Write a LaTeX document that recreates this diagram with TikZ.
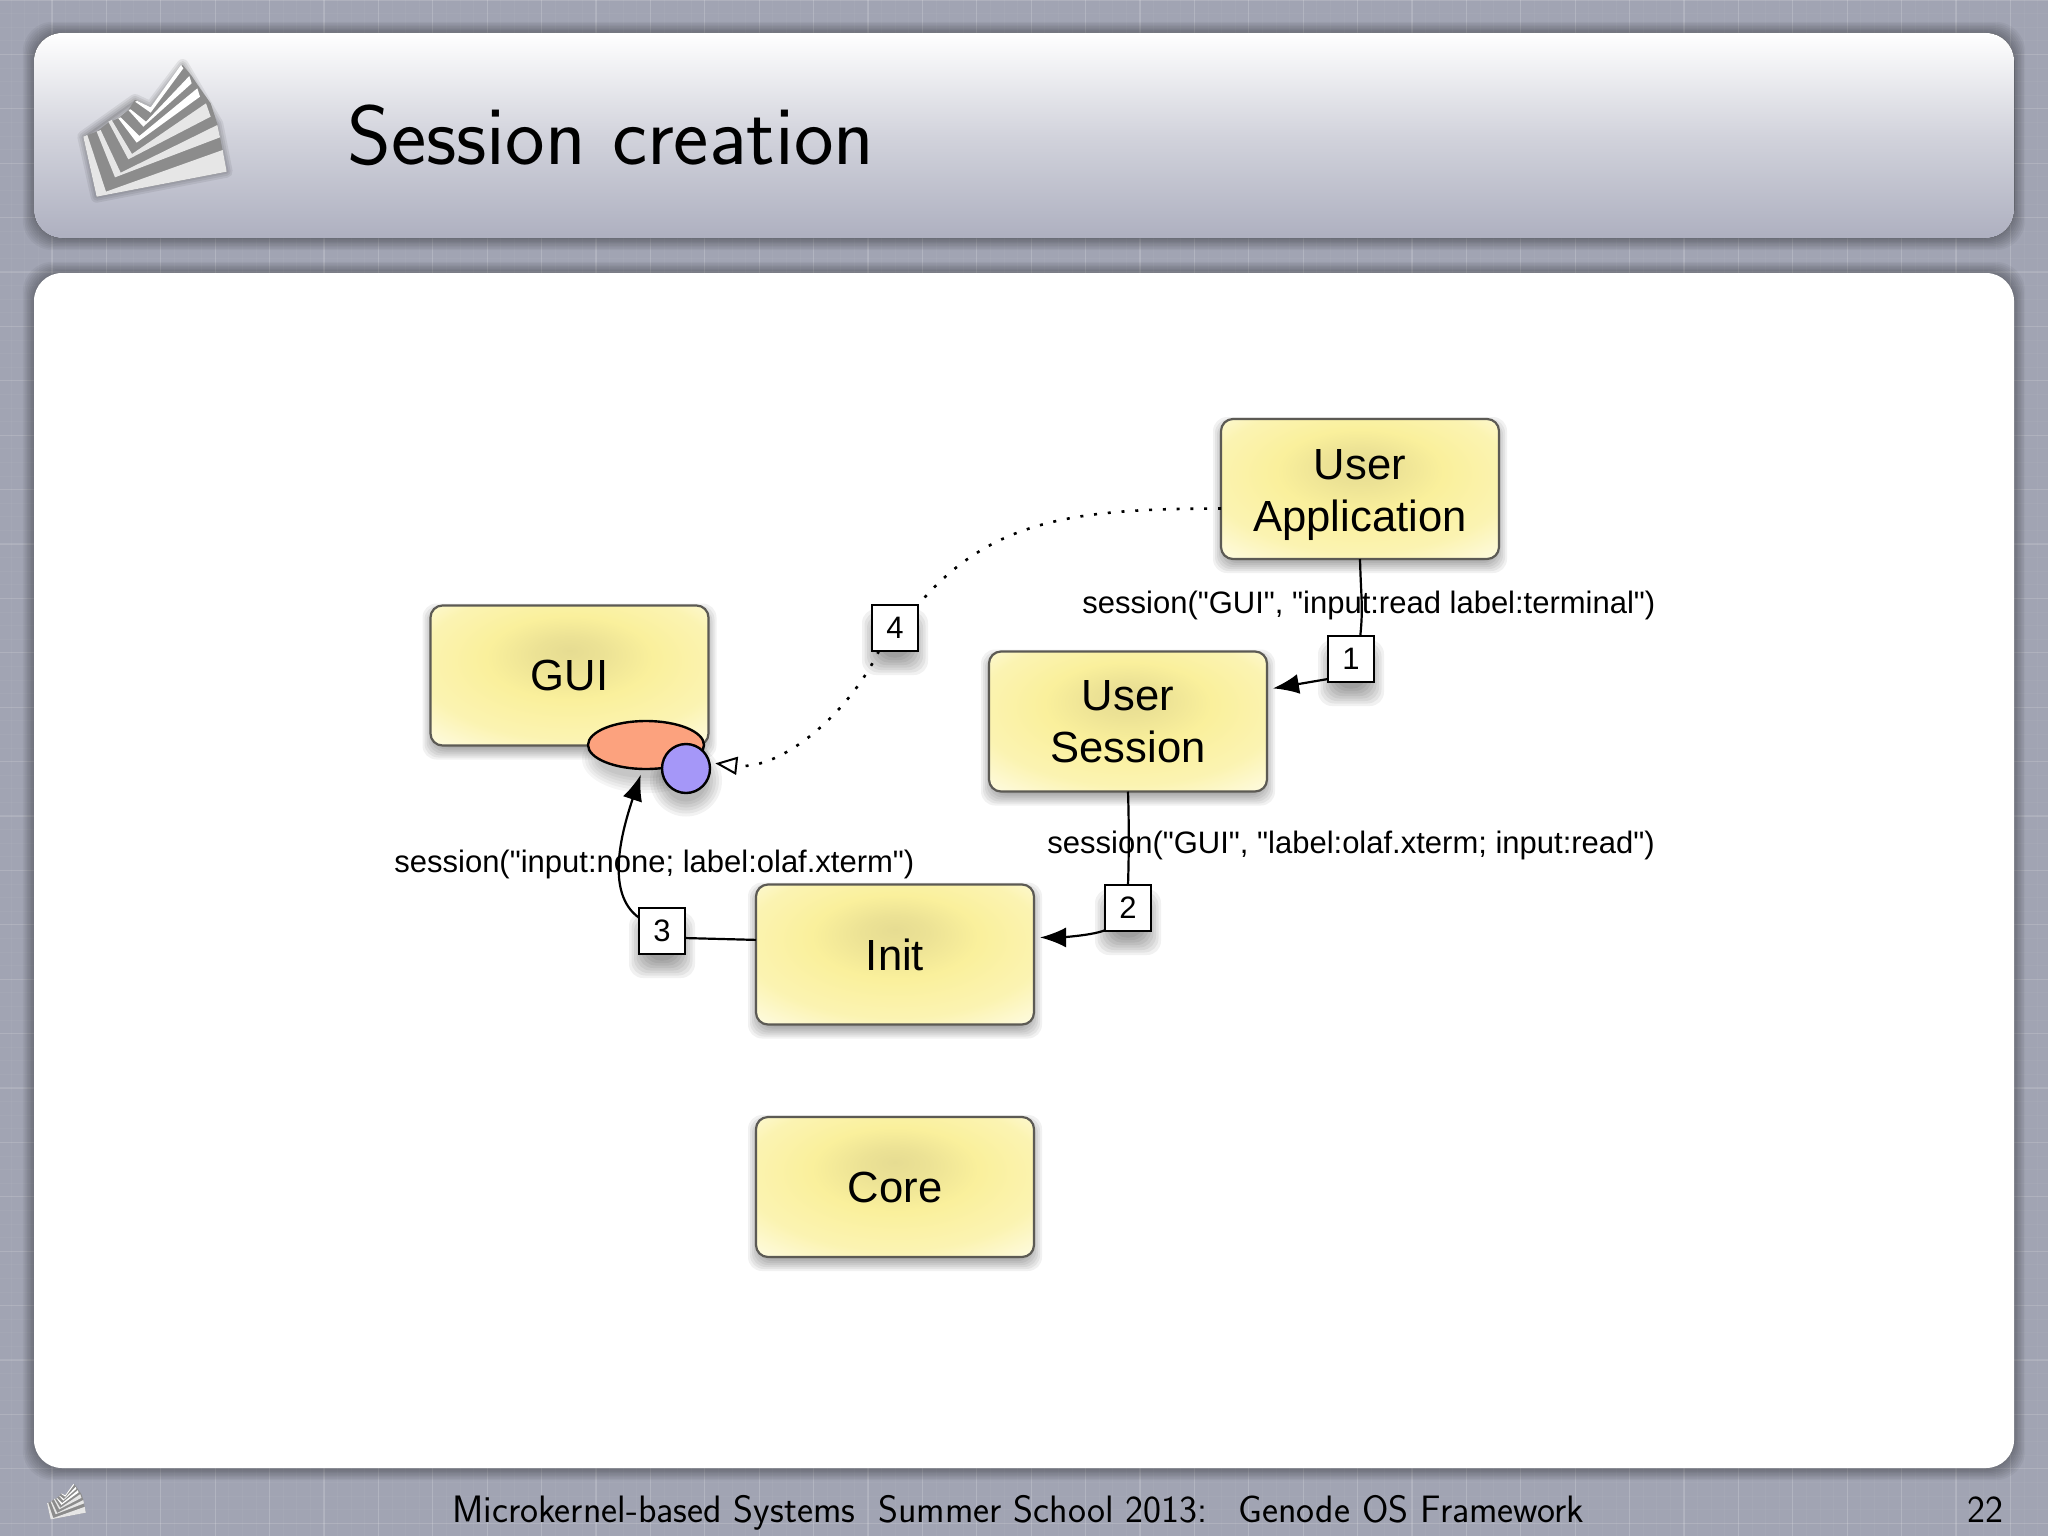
\documentclass[tikz,border=0pt]{standalone}
\usepackage{fontspec}
\setmainfont[Ligatures=TeXOff]{Liberation Sans}
\usetikzlibrary{arrows.meta,shapes.geometric,calc}
\definecolor{bgc}{HTML}{A1A4B3}
\definecolor{panelb}{HTML}{AEB0C0}
\definecolor{panelm}{HTML}{D2D3DC}
\definecolor{boxa}{HTML}{E6DC92}
\definecolor{boxb}{HTML}{FAF09C}
\definecolor{boxc}{HTML}{FFFEF4}
\definecolor{boxline}{HTML}{5C5A54}
\definecolor{sessc}{HTML}{FCA27E}
\definecolor{capc}{HTML}{A597F8}
\definecolor{logog}{HTML}{8C8C8C}
\definecolor{logow}{HTML}{E6E6E6}
\pgfdeclareradialshading{boxshade}{\pgfpoint{0bp}{9bp}}{%
  color(0bp)=(boxa);color(6bp)=(boxa!70!boxb);color(15bp)=(boxb);color(27bp)=(boxb!75!boxc);color(41bp)=(boxc);color(50bp)=(boxc)}
\pgfdeclarelayer{base}
\pgfdeclarelayer{shadow}
\pgfsetlayers{base,shadow,main}
\tikzset{
  compbox/.style={rectangle,rounded corners=6pt,draw=boxline,line width=1.1pt,shade,shading=boxshade,
    minimum width=139pt,minimum height=70pt,inner sep=0pt,outer sep=0pt,align=center,
    font=\fontsize{21.8}{26}\selectfont},
  stepnum/.style={rectangle,draw=black,line width=1.2pt,fill=white,minimum width=23pt,minimum height=23pt,
    inner sep=0pt,outer sep=0pt,font=\fontsize{15.5}{18}\selectfont},
  labeltext/.style={anchor=base west,inner sep=0pt,font=\fontsize{15.5}{18}\selectfont},
  conn/.style={line width=1.1pt,draw=black},
  dotconn/.style={line width=1.3pt,draw=black,dash pattern=on 1.5pt off 5.4pt},
  solidtip/.style={-{Latex[length=13pt,width=10pt]},shorten >=3pt},
  opentip/.style={-{Triangle[open,fill=white,length=11pt,width=9pt,line width=1pt]},shorten >=3pt},
  panel/.style={rounded corners=14pt},
  footertext/.style={anchor=base west,inner sep=0pt,font=\sffamily\fontsize{19.1}{22}\selectfont}
}
\newcommand{\softbox}[3]{% node, spread, drop
  \begin{pgfonlayer}{shadow}
  \foreach \i in {1,...,8}{
    \pgfmathsetmacro{\sp}{#2*(\i-4)/4}
    \fill[black,opacity=.055,rounded corners=7pt]
      ([shift={(-\sp,-\sp+#3)}]#1.north west) rectangle ([shift={(\sp,\sp+#3)}]#1.south east);
  }
  \end{pgfonlayer}}
\newcommand{\softpanel}[4]{% x1,y1,x2,y2
  \foreach \i in {1,...,8}{
    \pgfmathsetmacro{\sp}{\i*1.4}
    \fill[black,opacity=.04,rounded corners=15pt] (#1-\sp,#2-\sp) rectangle (#3+\sp,#4+\sp+1);
  }}
\newcommand{\logofan}{%
  \fill[logog] (250,410)--(290,590)--(680,515)--(652,372)--(632,310)--(600,265)--(575,228)--(548,195)--(452,322)--(405,300)--(385,330)--(355,355)--(325,368)--(290,395)--cycle;
  \fill[logow] (250,410)--(290,590)--(680,515)--(668,450)--(318,575)--(262,405)--cycle;
  \fill[logow] (290,395)--(345,532)--(660,412)--(652,375)--(362,518)--(302,390)--cycle;
  \fill[logow] (325,365)--(385,478)--(632,350)--(618,310)--(396,462)--(335,360)--cycle;
  \fill[white] (355,355)--(410,428)--(600,290)--(592,265)--(418,408)--(362,352)--cycle;
  \fill[white] (385,330)--(430,380)--(575,250)--(568,228)--(438,365)--(392,328)--cycle;
  \fill[white] (405,305)--(452,338)--(550,205)--(543,195)--(452,322)--(412,303)--cycle;
}
\begin{document}
\begin{tikzpicture}[x=0.5pt,y=-0.5pt]
\useasboundingbox (0,0) rectangle (2048,1536);
\begin{pgfonlayer}{base}
  \fill[bgc] (0,0) rectangle (2048,1536);
  \foreach \k in {0,...,150}{
    \draw[white,opacity=.04,line width=.4pt] ({-2.4+13.6*\k},0) -- ({-2.4+13.6*\k},1536);
  }
  \foreach \k in {0,...,113}{
    \draw[white,opacity=.04,line width=.4pt] (0,{13.6*\k}) -- (2048,{13.6*\k});
  }
  \foreach \k in {0,...,38}{
    \draw[white,opacity=.15,line width=.6pt] ({-2.4+54.4*\k},0) -- ({-2.4+54.4*\k},1536);
  }
  \foreach \k in {0,...,29}{
    \draw[white,opacity=.12,line width=.6pt] (0,{54.4*\k}) -- (2048,{54.4*\k});
  }
  \softpanel{34}{33}{2014}{238}
  \softpanel{34}{273}{2014}{1468}
  \fill[panel,top color=white,bottom color=panelb,middle color=panelm] (34,33) rectangle (2014,238);
  \fill[panel,white] (34,273) rectangle (2014,1468);
  \begin{scope}[scale=1/3]
    \foreach \w in {12,8,4}{
      \draw[black,opacity=.07,line width=\w*.5pt,line join=round,fill=black,fill opacity=.03]
        (250,410)--(290,590)--(680,515)--(652,372)--(548,195)--(452,322)--(405,300)--cycle;
    }
    \logofan
  \end{scope}
  \begin{scope}[shift={(24.6,1466.3)},scale=.09]
    \logofan
  \end{scope}
\end{pgfonlayer}

\node[anchor=base west,inner sep=0pt,font=\sffamily\fontsize{42}{48}\selectfont] (title) at (347,164) {Session creation};
\node[footertext] (foot1) at (452,1522) {Microkernel-based Systems};
\node[footertext] (foot2) at (878,1522) {Summer School 2013:};
\node[footertext] (foot3) at (1238,1522) {Genode OS Framework};
\node[footertext] (foot4) at (1967,1522) {22};

\node[compbox] (gui) at (569.5,675.5) {GUI};
\node[compbox] (ua) at (1360,489) {\rule{0pt}{20.7pt}User\\Application};
\node[compbox] (us) at (1128,721.5) {User\\Session};
\node[compbox] (init) at (895,954.5) {Init};
\node[compbox] (core) at (895,1187) {Core};
\node[stepnum] (s1) at (1351,659) {1};
\node[stepnum] (s2) at (1128,908) {2};
\node[stepnum] (s3) at (662,931) {3};
\node[stepnum] (s4) at (895,628) {4};
\node[ellipse,draw=black,line width=1.2pt,fill=sessc,minimum width=58pt,minimum height=24pt,inner sep=0pt,outer sep=0pt] (sess) at (646,745) {};
\node[ellipse,draw=black,line width=1.2pt,fill=capc,minimum width=24pt,minimum height=24.5pt,inner sep=0pt,outer sep=0pt] (cap) at (686,768.5) {};

\softbox{gui}{8}{6}
\softbox{ua}{8}{6}
\softbox{us}{8}{6}
\softbox{init}{8}{6}
\softbox{core}{8}{6}
\softbox{s1}{10}{14}
\softbox{s2}{10}{14}
\softbox{s3}{10}{14}
\softbox{s4}{10}{14}
\begin{pgfonlayer}{shadow}
  \foreach \i in {1,...,6}{
    \fill[black,opacity=.05] ($(cap.center)+(0,12)$) circle ({(18+\i*3)*0.5pt});
    \fill[black,opacity=.04] ($(sess.center)+(0,14)$) ellipse ({(46+\i*3)*0.5pt} and {(16+\i*3)*0.5pt});
  }
\end{pgfonlayer}

\draw[conn] (ua.south) .. controls +(1,40) and +(3,-30) .. (s1.68);
\draw[conn,solidtip] (s1.221) -- (us.13);
\draw[conn] (us.south) .. controls +(1,30) and +(1,-30) .. (s2.north);
\draw[conn,solidtip] (s2.224) .. controls +(-15,6) and +(20,0) .. (init.7);
\draw[conn] (init.174) -- (s3.-17);
\draw[conn,solidtip] (s3.150) .. controls +(-35,-25) and +(-20,60) .. (sess.262);
\draw[dotconn] (ua.188) .. controls +(-148,0) and +(72,-85) .. (s4.45);
\draw[dotconn,opentip] (s4.235) .. controls +(-30,62) and +(72,8) .. (cap.14);

\node[labeltext] (l1) at (1082,613) {session("GUI", "input:read label:terminal")};
\node[labeltext] (l2) at (1047,853) {session("GUI", "label:olaf.xterm; input:read")};
\node[labeltext] (l3) at (394,872) {session("input:none; label:olaf.xterm")};
\end{tikzpicture}
\end{document}
